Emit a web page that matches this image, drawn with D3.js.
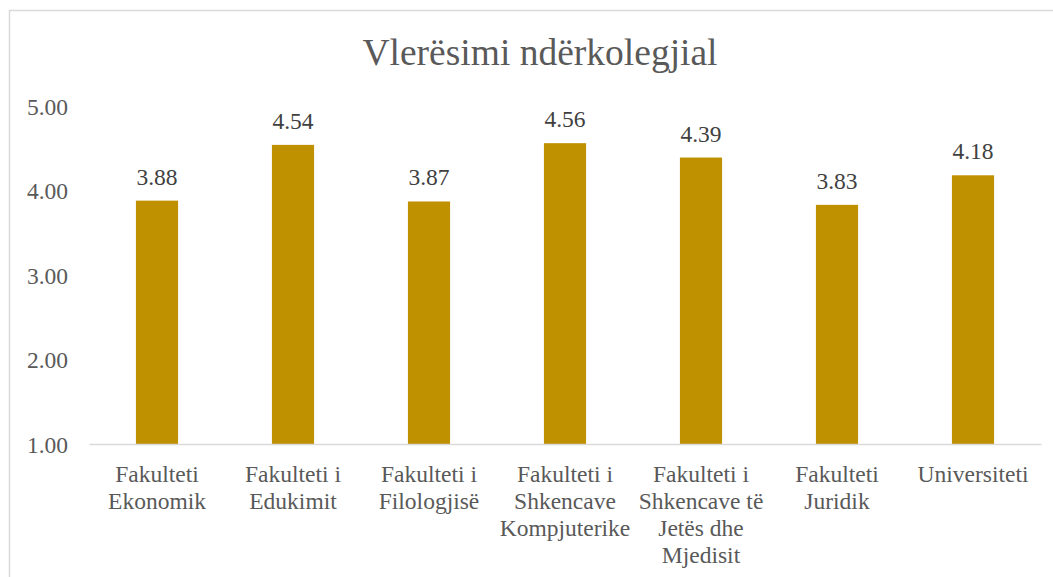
<!DOCTYPE html>
<html>
<head>
<meta charset="utf-8">
<script src="https://cdn.jsdelivr.net/npm/d3@7"></script>
<style>
  html, body { margin: 0; padding: 0; background: #fff; }
  svg { display: block; }
</style>
</head>
<body>
<svg id="chart" width="1053" height="577"></svg>
<script>
// Peer evaluation scores by faculty
const categories = [
  ["Fakulteti", "Ekonomik"],
  ["Fakulteti i", "Edukimit"],
  ["Fakulteti i", "Filologjisë"],
  ["Fakulteti i", "Shkencave", "Kompjuterike"],
  ["Fakulteti i", "Shkencave të", "Jetës dhe", "Mjedisit"],
  ["Fakulteti", "Juridik"],
  ["Universiteti"]
];
const values = [3.88, 4.54, 3.87, 4.56, 4.39, 3.83, 4.18];
const yTicks = [1, 2, 3, 4, 5];
const title = "Vlerësimi ndërkolegjial";

const FONT = "Times";
const svg = d3.select("#chart");
const textColor = "#595959";
const barColor = "#BF9000";
const lineColor = "#d9d9d9";

// Chart frame
svg.append("rect")
  .attr("x", 9.5).attr("y", 10.5)
  .attr("width", 1060).attr("height", 600)
  .attr("fill", "#fff")
  .attr("stroke", lineColor)
  .attr("stroke-width", 1.5);

const plot = { left: 89, right: 1041, top: 106, bottom: 444 };

const x = d3.scaleBand()
  .domain(categories.map((d, i) => i))
  .range([plot.left, plot.right])
  .paddingInner(0.69)
  .paddingOuter(0.345);

const y = d3.scaleLinear()
  .domain([1, 5])
  .range([plot.bottom, plot.top]);

// Title
svg.append("text")
  .attr("x", 540).attr("y", 65)
  .attr("text-anchor", "middle")
  .attr("fill", textColor)
  .attr("font-family", FONT)
  .attr("font-size", 37.5)
  .text(title);

// Y axis labels
const yAxis = d3.axisLeft(y)
  .tickValues(yTicks)
  .tickFormat(d3.format(".2f"))
  .tickSize(0)
  .tickPadding(0);

const yg = svg.append("g")
  .attr("transform", `translate(68,0)`)
  .call(yAxis);
yg.select(".domain").remove();
yg.selectAll("text")
  .attr("fill", textColor)
  .attr("font-family", FONT)
  .attr("font-size", 23.5)
  .attr("dy", "0.35em");

// Bars
svg.append("g").selectAll("rect")
  .data(values)
  .join("rect")
  .attr("x", (d, i) => x(i))
  .attr("y", d => y(d))
  .attr("width", x.bandwidth())
  .attr("height", d => y(1) - y(d))
  .attr("fill", barColor);

// Value labels
svg.append("g").selectAll("text")
  .data(values)
  .join("text")
  .attr("x", (d, i) => x(i) + x.bandwidth() / 2)
  .attr("y", d => y(d) - 16)
  .attr("text-anchor", "middle")
  .attr("fill", "#404040")
  .attr("font-family", FONT)
  .attr("font-size", 23.5)
  .text(d => d3.format(".2f")(d));

// X axis baseline
const xAxis = d3.axisBottom(x).tickSize(0).tickFormat("");
const xg = svg.append("g")
  .attr("transform", `translate(0,${plot.bottom})`)
  .call(xAxis);
xg.select(".domain")
  .attr("stroke", lineColor)
  .attr("stroke-width", 1.5);

// Category labels (pre-wrapped lines)
const catG = svg.append("g").selectAll("text")
  .data(categories)
  .join("text")
  .attr("text-anchor", "middle")
  .attr("fill", textColor)
  .attr("font-family", FONT)
  .attr("font-size", 23.5)
  .attr("transform", (d, i) => `translate(${x(i) + x.bandwidth() / 2},${plot.bottom + 38})`);

catG.selectAll("tspan")
  .data(d => d)
  .join("tspan")
  .attr("x", 0)
  .attr("y", (d, j) => j * 27)
  .text(d => d);
</script>
</body>
</html>
